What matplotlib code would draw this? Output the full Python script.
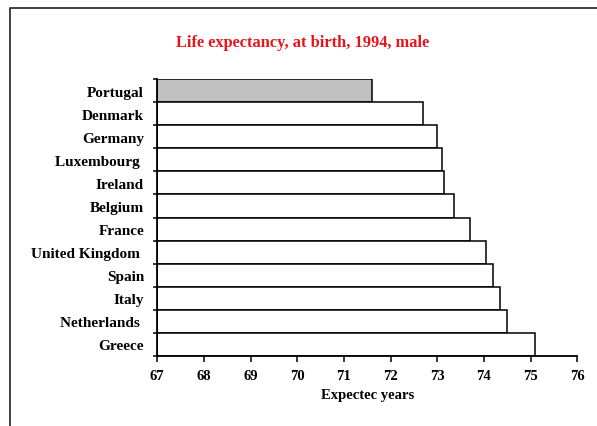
import matplotlib
matplotlib.use('Agg')
import matplotlib.pyplot as plt
from matplotlib.lines import Line2D

# data
countries = ["Portugal", "Denmark", "Germany", "Luxembourg ", "Ireland", "Belgium",
             "France", "United Kingdom ", "Spain", "Italy", "Netherlands ", "Greece"]
life_exp = [71.6, 72.7, 73.0, 73.1, 73.15, 73.35, 73.7, 74.05, 74.2, 74.35, 74.5, 75.1]
bar_colors = ["#c0c0c0"] + ["white"] * 11
xticks = list(range(67, 77))

plt.rcParams['font.family'] = ['Liberation Serif', 'DejaVu Serif']
plt.rcParams['font.weight'] = 'bold'

fig = plt.figure(figsize=(5.97, 4.27), dpi=100)
ax = fig.add_axes([157.3/597, 1-357/427, 420/597, 277/427])

pos = list(range(len(countries)))
ax.barh(pos, [v - 67 for v in life_exp], left=67, height=1.0,
        color=bar_colors, edgecolor="black", linewidth=1.1)
ax.set_xlim(67, 76)
ax.set_ylim(len(countries) - 0.5, -0.5)

ax.set_xticks(xticks)
ax.set_xticklabels([str(t) for t in xticks], fontsize=10.5, fontweight='bold')
ax.set_yticks(pos)
ax.set_yticklabels(countries, fontsize=11, fontweight='bold')
ax.set_yticks([p - 0.5 for p in pos] + [len(pos) - 0.5], minor=True)
ax.tick_params(axis='y', which='major', length=0, pad=9.5)
ax.tick_params(axis='y', which='minor', length=3, width=1.1, direction='out')
ax.tick_params(axis='x', length=4, width=1.1, direction='out', pad=5)

for s in ["top", "right"]:
    ax.spines[s].set_visible(False)
for s in ["left", "bottom"]:
    ax.spines[s].set_linewidth(1.3)

ax.set_xlabel("Expectec years", fontsize=10.5, fontweight='bold', labelpad=5)
fig.text(303/597, 1-43/427, "Life expectancy, at birth, 1994, male", color="#e8141c",
         fontsize=11.8, fontweight='bold', ha='center', va='center')

# outer chart frame (only top and left sides show)
fx = 9.5/597
fy = 1 - 8.5/427
fig.add_artist(Line2D([fx, fx, 1.0], [0.0, fy, fy], transform=fig.transFigure,
                      color="#333333", linewidth=1.3))

fig.savefig("out.png", dpi=100)
